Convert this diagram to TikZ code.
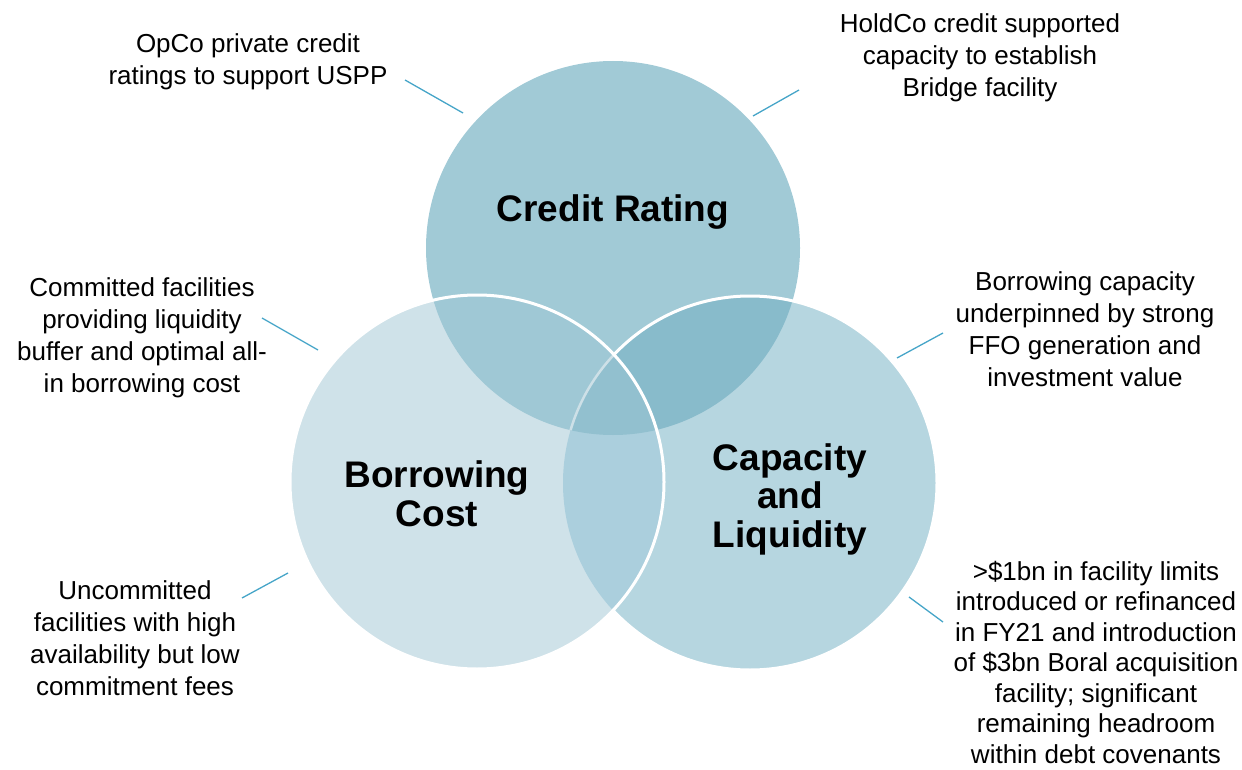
\documentclass[tikz,border=0pt]{standalone}
\usepackage{fontspec}
\setmainfont{Liberation Sans}
% region colours of the three-set Venn diagram
\definecolor{credit}{RGB}{161,202,214}
\definecolor{borrow}{RGB}{207,226,233}
\definecolor{capac}{RGB}{182,214,224}
\definecolor{crbor}{RGB}{159,200,213}
\definecolor{crcap}{RGB}{136,187,203}
\definecolor{borcap}{RGB}{171,207,221}
\definecolor{triple}{RGB}{146,192,207}
\definecolor{faint}{RGB}{205,224,231}
\definecolor{leadercol}{RGB}{70,165,200}
\begin{document}
\begin{tikzpicture}[x=1pt,y=-1pt,
  note/.style={align=center,inner sep=0pt,font=\fontsize{26}{32}\selectfont},
  title/.style={align=center,inner sep=0pt,font=\fontsize{37}{38.5}\selectfont\bfseries},
  leader/.style={draw=leadercol,line width=1.3pt},
  outline/.style={draw=white,line width=3pt}]
\useasboundingbox (0,0) rectangle (1242,770);
\def\R{187}
% circle centres
\coordinate (cr) at (613,248);
\coordinate (bc) at (477,482);
\coordinate (cl) at (750,483);

% base fills
\fill[credit] (cr) circle (\R);
\fill[capac] (cl) circle (\R);
\fill[borrow] (bc) circle (\R);
% pairwise overlaps
\begin{scope}
  \clip (cr) circle (\R);
  \fill[crcap] (cl) circle (\R);
  \fill[crbor] (bc) circle (\R);
\end{scope}
\begin{scope}
  \clip (bc) circle (\R);
  \fill[borcap] (cl) circle (\R);
  \clip (cr) circle (\R);
  \fill[triple] (cl) circle (\R);
\end{scope}
% white rims
\begin{scope}[even odd rule]
  \clip (-20,-20) rectangle (1262,790) (bc) circle (\R);
  \draw[outline] (cl) circle (\R);
\end{scope}
\begin{scope}
  \clip (bc) circle (\R);
  \clip (cr) circle (\R);
  \draw[faint,line width=2.5pt] (cl) circle (\R);
\end{scope}
\draw[outline] (bc) circle (\R);

% circle titles
\node[title,anchor=base] (tcr) at (613,222) {Credit Rating};
\node[title] (tbc) at (437,494) {Borrowing\\Cost};
\node[title] (tcl) at (790,499) {Capacity\\and\\Liquidity};

% notes
\node[note] (n1) at (248,62) {OpCo private credit\\ratings to support USPP};
\node[note] (n2) at (980,58) {HoldCo credit supported\\capacity to establish\\Bridge facility};
\node[note] (n3) at (142,338) {Committed facilities\\providing liquidity\\buffer and optimal all-\\in borrowing cost};
\node[note] (n4) at (1085,329) {Borrowing capacity\\underpinned by strong\\FFO generation and\\investment value};
\node[note] (n5) at (135,638) {Uncommitted\\facilities with high\\availability but low\\commitment fees};
\node[note,font=\fontsize{26}{30.5}\selectfont] (n6) at (1096,662) {>\$1bn in facility limits\\introduced or refinanced\\in FY21 and introduction\\of \$3bn Boral acquisition\\facility; significant\\remaining headroom\\within debt covenants};

% leader lines
\coordinate (a1) at (405,80);  \coordinate (b1) at (463,113);
\coordinate (a2) at (799,90);  \coordinate (b2) at (753,116);
\coordinate (a3) at (262,318); \coordinate (b3) at (318,350);
\coordinate (a4) at (943,333); \coordinate (b4) at (897,358);
\coordinate (a5) at (288,573); \coordinate (b5) at (242,598);
\coordinate (a6) at (909,597); \coordinate (b6) at (943,622);
\draw[leader] (a1) -- (b1);
\draw[leader] (a2) -- (b2);
\draw[leader] (a3) -- (b3);
\draw[leader] (a4) -- (b4);
\draw[leader] (a5) -- (b5);
\draw[leader] (a6) -- (b6);
\end{tikzpicture}
\end{document}
